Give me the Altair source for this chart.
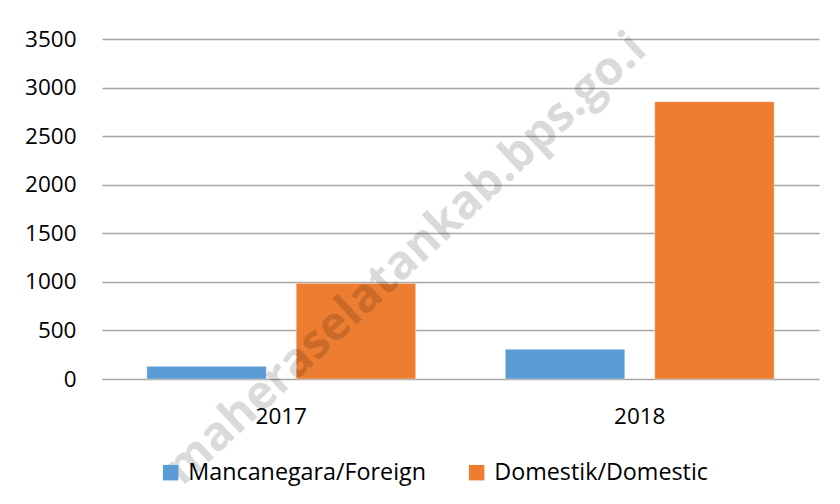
import altair as alt
import pandas as pd

years = ["2017", "2018"]
series = ["Mancanegara/Foreign", "Domestik/Domestic"]
foreign = [130, 306]
domestic = [985, 2855]
colors = ["#5B9BD5", "#ED7D31"]
y_ticks = [0, 500, 1000, 1500, 2000, 2500, 3000, 3500]
watermark = "maheraselatankab.bps.go.i"

rows = []
for i, yr in enumerate(years):
    rows.append({"year": yr, "series": series[0], "value": foreign[i]})
    rows.append({"year": yr, "series": series[1], "value": domestic[i]})
df = pd.DataFrame(rows)

FONT = "Open Sans"
FS = 22.5

bars = alt.Chart(df).mark_bar(stroke="#ffffff", strokeWidth=0.6, strokeOpacity=0.7).encode(
    x=alt.X("year:N", sort=years,
            scale=alt.Scale(paddingInner=0, paddingOuter=0),
            axis=alt.Axis(title=None, labelAngle=0, ticks=False, domain=False,
                          labelPadding=26, labelFontSize=FS, labelFont=FONT,
                          labelColor="#000000")),
    xOffset=alt.XOffset("series:N", sort=series,
                        scale=alt.Scale(paddingInner=0.2, paddingOuter=0.3)),
    y=alt.Y("value:Q", scale=alt.Scale(domain=[0, 3500]),
            axis=alt.Axis(title=None, values=y_ticks, ticks=False, domain=False, format="d",
                          labelPadding=26, labelFontSize=FS, labelFont=FONT,
                          labelColor="#000000", gridColor="#a6a6a6", gridWidth=1.5)),
    color=alt.Color("series:N", sort=series,
                    scale=alt.Scale(domain=series, range=colors),
                    legend=alt.Legend(title=None, orient="none", legendX=57, legendY=422,
                                      direction="horizontal", symbolType="square",
                                      symbolSize=240, symbolStrokeWidth=0,
                                      labelFontSize=23.3, labelFont=FONT, labelColor="#000000",
                                      labelLimit=0, labelOffset=6, columnPadding=38)),
)

wm = alt.Chart(pd.DataFrame({"t": [watermark]})).mark_text(
    angle=317, fontSize=47, fontWeight="bold", font=FONT, color="#000000",
    opacity=0.14, align="right", baseline="middle"
).encode(x=alt.value(537), y=alt.value(3), text="t:N")

chart = alt.layer(bars, wm).properties(
    width=717, height=340,
    autosize=alt.AutoSizeParams(type="none"),
    padding={"left": 94, "top": 31, "right": 13, "bottom": 117},
    background="#ffffff",
).configure_view(stroke=None)

chart.save("out.html", embed_options={"renderer": "svg", "actions": False})
